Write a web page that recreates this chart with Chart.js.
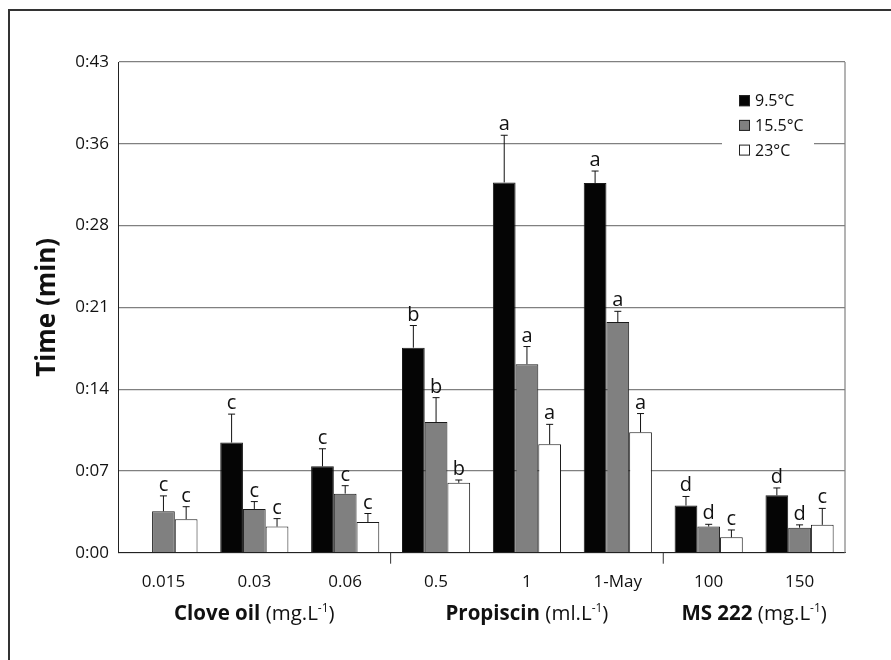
<!DOCTYPE html>
<html lang="en">
<head>
  <meta charset="UTF-8" />
  <meta name="viewport" content="width=device-width, initial-scale=1.0" />
  <title>Time (min) by anaesthetic and temperature</title>
  <script src="https://cdn.jsdelivr.net/npm/chart.js"></script>
  <style>
    html, body { margin: 0; padding: 0; background: #fff; overflow: hidden; }
    #wrap { position: relative; width: 891px; height: 660px; }
    #frame {
      position: absolute; left: 8px; top: 9px; width: 1000px; height: 1000px;
      border-left: 2px solid #333; border-top: 2px solid #333; pointer-events: none;
    }
  </style>
</head>
<body>
  <div id="wrap">
    <canvas id="chart"></canvas>
    <div id="frame"></div>
  </div>

  <script>
    // categories (doses) and the groups they belong to
    const categories = ['0.015', '0.03', '0.06', '0.5', '1', '1-May', '100', '150'];
    const groupNames = ['Clove oil', 'Propiscin', 'MS 222'];
    const groupUnits = ['(mg.L', '(ml.L', '(mg.L'];
    const groupSpans = [[0, 2], [3, 5], [6, 7]];

    // y axis ticks, values in seconds
    const yTickValues = [0, 7.2, 14.4, 21.6, 28.8, 36, 43.2];
    const yTickLabels = ['0:00', '0:07', '0:14', '0:21', '0:28', '0:36', '0:43'];

    // series (seconds), error bars and letters
    const seriesNames = ['9.5°C', '15.5°C', '23°C'];
    const cold = [null, 9.7, 7.6, 18.05, 32.6, 32.55, 4.15, 5.05];
    const coldErr = [null, 2.5, 1.55, 1.95, 4.15, 1.05, 0.8, 0.65];
    const coldLetters = [null, 'c', 'c', 'b', 'a', 'a', 'd', 'd'];
    const mid = [3.65, 3.85, 5.2, 11.5, 16.6, 20.3, 2.3, 2.2];
    const midErr = [1.35, 0.65, 0.7, 2.15, 1.55, 0.95, 0.2, 0.25];
    const midLetters = ['c', 'c', 'c', 'b', 'a', 'a', 'd', 'd'];
    const warm = [2.95, 2.3, 2.7, 6.15, 9.55, 10.6, 1.35, 2.45];
    const warmErr = [1.1, 0.7, 0.75, 0.25, 1.75, 1.65, 0.65, 1.45];
    const warmLetters = ['c', 'c', 'c', 'b', 'a', 'a', 'c', 'c'];

    const colors = ['#050505', '#808080', '#ffffff'];
    const errors = [coldErr, midErr, warmErr];
    const letters = [coldLetters, midLetters, warmLetters];
    const FONT = '"Open Sans", "DejaVu Sans", sans-serif';

    Chart.defaults.font.family = FONT;
    Chart.defaults.color = '#111';

    const errorBars = {
      id: 'errorBars',
      afterDatasetsDraw(chart) {
        const { ctx, scales: { y } } = chart;
        ctx.save();
        chart.data.datasets.forEach((ds, di) => {
          chart.getDatasetMeta(di).data.forEach((bar, i) => {
            const v = ds.data[i];
            if (v == null) return;
            const top = y.getPixelForValue(v + errors[di][i]);
            ctx.strokeStyle = '#111';
            ctx.lineWidth = 1;
            ctx.beginPath();
            ctx.moveTo(bar.x, bar.y);
            ctx.lineTo(bar.x, top);
            ctx.moveTo(bar.x - 3.5, top);
            ctx.lineTo(bar.x + 3.5, top);
            ctx.stroke();
            ctx.fillStyle = '#111';
            ctx.font = '20px ' + FONT;
            ctx.textAlign = 'center';
            ctx.textBaseline = 'alphabetic';
            ctx.fillText(letters[di][i], bar.x, top - 5);
          });
        });
        ctx.restore();
      }
    };

    const groupAxis = {
      id: 'groupAxis',
      afterDraw(chart) {
        const { ctx, chartArea: a, scales: { x } } = chart;
        ctx.save();
        // right edge of plot
        ctx.strokeStyle = '#808080';
        ctx.lineWidth = 1.2;
        ctx.beginPath();
        ctx.moveTo(a.right, a.top);
        ctx.lineTo(a.right, a.bottom);
        ctx.stroke();
        // little separators between groups
        ctx.strokeStyle = '#333';
        ctx.lineWidth = 1;
        groupSpans.slice(1).forEach(([from]) => {
          const px = (x.getPixelForValue(from - 1) + x.getPixelForValue(from)) / 2;
          ctx.beginPath();
          ctx.moveTo(px, a.bottom);
          ctx.lineTo(px, a.bottom + 11);
          ctx.stroke();
        });
        // group names with units
        const bold = '700 20.5px ' + FONT, norm = '20.5px ' + FONT, sup = '12px ' + FONT;
        ctx.fillStyle = '#111';
        ctx.textAlign = 'left';
        ctx.textBaseline = 'alphabetic';
        groupNames.forEach((name, g) => {
          const [from, to] = groupSpans[g];
          const cx = (x.getPixelForValue(from) + x.getPixelForValue(to)) / 2;
          ctx.font = bold; const w1 = ctx.measureText(name + ' ').width;
          ctx.font = norm; const w2 = ctx.measureText(groupUnits[g]).width;
          const w4 = ctx.measureText(')').width;
          ctx.font = sup; const w3 = ctx.measureText('-1').width;
          let px = cx - (w1 + w2 + w3 + w4) / 2;
          const py = a.bottom + 67;
          ctx.font = bold; ctx.fillText(name + ' ', px, py); px += w1;
          ctx.font = norm; ctx.fillText(groupUnits[g], px, py); px += w2;
          ctx.font = sup; ctx.fillText('-1', px, py - 8); px += w3;
          ctx.font = norm; ctx.fillText(')', px, py);
        });
        ctx.restore();
      }
    };

    const boxLegend = {
      id: 'boxLegend',
      afterDraw(chart) {
        const { ctx, chartArea: a } = chart;
        const x0 = a.right - 106, y0 = a.top + 38.7;
        ctx.save();
        ctx.fillStyle = '#fff';
        ctx.fillRect(x0 - 17, y0 - 16, 92, 80);
        ctx.font = '16px ' + FONT;
        ctx.textAlign = 'left';
        ctx.textBaseline = 'middle';
        chart.data.datasets.forEach((ds, i) => {
          const cy = y0 + i * 24.7;
          ctx.fillStyle = ds.backgroundColor;
          ctx.fillRect(x0, cy - 5.5, 11, 11);
          ctx.strokeStyle = '#222';
          ctx.lineWidth = 1;
          ctx.strokeRect(x0 + 0.5, cy - 5, 10, 10);
          ctx.fillStyle = '#111';
          ctx.fillText(ds.label, x0 + 16, cy + 1);
        });
        ctx.restore();
      }
    };

    const makeSet = (label, data, i) => ({
      label: label,
      data: data,
      backgroundColor: colors[i],
      borderColor: '#1a1a1a',
      borderWidth: 1,
      categoryPercentage: 0.75,
      barPercentage: 1.0
    });

    new Chart(document.getElementById('chart'), {
      type: 'bar',
      data: {
        labels: categories,
        datasets: [
          makeSet(seriesNames[0], cold, 0),
          makeSet(seriesNames[1], mid, 1),
          makeSet(seriesNames[2], warm, 2)
        ]
      },
      options: {
        responsive: true,
        maintainAspectRatio: false,
        animation: false,
        layout: { padding: { top: 62, right: 46, left: 0, bottom: 0 } },
        plugins: { legend: { display: false }, tooltip: { enabled: false } },
        scales: {
          x: {
            grid: { display: false, drawTicks: false },
            border: { color: '#222', width: 1 },
            ticks: { color: '#111', font: { size: 17 }, padding: 19 },
            afterFit(s) { s.height = 107.3; }
          },
          y: {
            min: 0,
            max: 43.2,
            afterBuildTicks(s) { s.ticks = yTickValues.map(v => ({ value: v })); },
            ticks: { callback: (v, i) => yTickLabels[i], padding: 9, color: '#111', font: { size: 17 } },
            grid: { color: '#808080', lineWidth: 1.2, drawTicks: false },
            border: { color: '#222', width: 1 },
            title: {
              display: true, text: 'Time (min)', color: '#111',
              font: { size: 26, weight: 'bold' }, padding: { top: 32 }
            },
            afterFit(s) { s.width = 118; }
          }
        }
      },
      plugins: [errorBars, groupAxis, boxLegend]
    });
  </script>
</body>
</html>
